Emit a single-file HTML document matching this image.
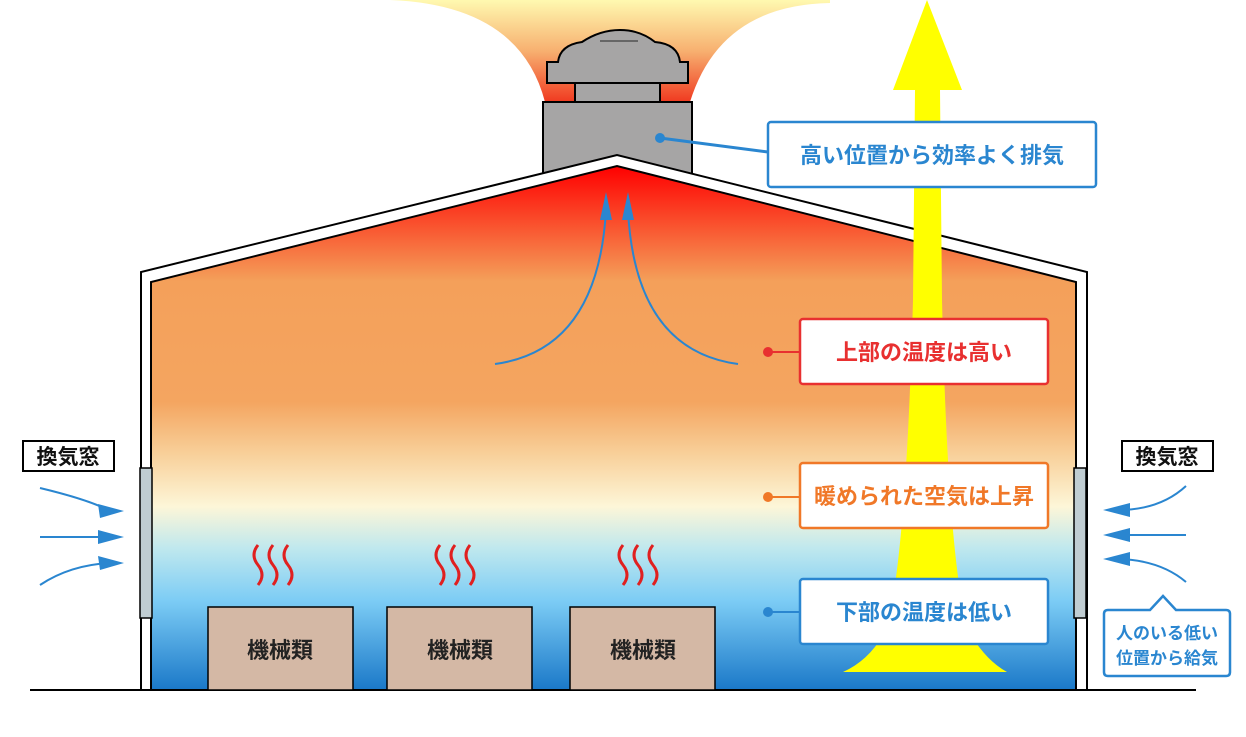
<!DOCTYPE html>
<html><head><meta charset="utf-8"><style>
body{margin:0;background:#fff}
svg{display:block}
text{font-family:"Liberation Sans","Noto Sans CJK JP",sans-serif;font-weight:bold}
</style></head><body>
<svg width="1246" height="737" viewBox="0 0 1246 737" xmlns="http://www.w3.org/2000/svg">
<defs>
<linearGradient id="room" gradientUnits="userSpaceOnUse" x1="0" y1="166" x2="0" y2="690">
<stop offset="0" stop-color="#ff0000"/>
<stop offset="0.22" stop-color="#f4a05a"/>
<stop offset="0.45" stop-color="#f4a560"/>
<stop offset="0.55" stop-color="#f8d09a"/>
<stop offset="0.65" stop-color="#fdf6d8"/>
<stop offset="0.73" stop-color="#bfe8ee"/>
<stop offset="0.83" stop-color="#7cccf5"/>
<stop offset="1" stop-color="#1a78c8"/>
</linearGradient>
<linearGradient id="plume" x1="0" y1="0" x2="0" y2="1">
<stop offset="0" stop-color="#fff9b0"/>
<stop offset="0.5" stop-color="#f7b070"/>
<stop offset="1" stop-color="#f03a20"/>
</linearGradient>
</defs>
<path d="M390,0 Q520,5 545,102 L690,102 Q720,5 830,3 L830,0 Z" fill="url(#plume)"/>
<rect x="543" y="102" width="149" height="72" fill="#a6a5a5" stroke="#000" stroke-width="2"/>
<rect x="575" y="83" width="85" height="19" fill="#a6a5a5" stroke="#000" stroke-width="2"/>
<path d="M547,83 L547,62 L558,62 Q560,45 582,42 Q600,30 620,30 Q640,30 655,42 Q678,44 680,62 L688,62 L688,83 Z" fill="#a6a5a5" stroke="#000" stroke-width="2"/>
<line x1="600" y1="41" x2="638" y2="41" stroke="#666" stroke-width="2"/>
<path d="M141,690 L141,272 L617,155 L1087,272 L1087,690" fill="#fff" stroke="#000" stroke-width="2"/>
<path d="M151,690 L151,282 L617,166 L1076,282 L1076,690 Z" fill="url(#room)" stroke="#000" stroke-width="2"/>
<line x1="30" y1="690" x2="1196" y2="690" stroke="#000" stroke-width="2"/>
<path d="M927,0 L962,90 L940,90 L942,300 Q948,560 968,630 Q985,660 1007,672 L843,672 Q870,660 886,630 Q906,560 913,300 L915,90 L893,90 Z" fill="#ffff00"/>
<rect x="140" y="468" width="12" height="150" fill="#c0cdd2" stroke="#000" stroke-width="1.5"/>
<rect x="1074" y="468" width="12" height="150" fill="#c0cdd2" stroke="#000" stroke-width="1.5"/>
<g fill="none" stroke="#2a86d0" stroke-width="2">
<path d="M495,364 Q598,350 606,210"/>
<path d="M738,364 Q635,350 628,210"/>
<path d="M40,488 Q90,500 110,511"/>
<path d="M40,537 L110,537"/>
<path d="M40,585 Q70,565 110,563"/>
<path d="M1186,486 Q1160,510 1118,510"/>
<path d="M1186,535 L1118,535"/>
<path d="M1186,582 Q1160,560 1118,559"/>
</g>
<g fill="#2a86d0">
<path d="M606,192 L600,220 L612,220 Z"/><path d="M628,192 L622,220 L634,220 Z"/>
<path d="M124,511 L98,504 L100,518 Z"/><path d="M124,537 L98,530 L98,544 Z"/><path d="M124,563 L98,556 L100,570 Z"/>
<path d="M1103,510 L1130,503 L1130,517 Z"/><path d="M1103,535 L1130,528 L1130,542 Z"/><path d="M1103,559 L1130,552 L1130,566 Z"/>
</g>
<g fill="none" stroke="#e02020" stroke-width="3">
<path d="M258,545 q-8,10 0,20 q8,10 0,20"/><path d="M273,545 q-8,10 0,20 q8,10 0,20"/><path d="M288,545 q-8,10 0,20 q8,10 0,20"/>
<path d="M440,545 q-8,10 0,20 q8,10 0,20"/><path d="M455,545 q-8,10 0,20 q8,10 0,20"/><path d="M470,545 q-8,10 0,20 q8,10 0,20"/>
<path d="M623,545 q-8,10 0,20 q8,10 0,20"/><path d="M638,545 q-8,10 0,20 q8,10 0,20"/><path d="M653,545 q-8,10 0,20 q8,10 0,20"/>
</g>
<g fill="#d4b8a5" stroke="#000" stroke-width="1.5">
<rect x="208" y="607" width="145" height="83"/><rect x="387" y="607" width="145" height="83"/><rect x="570" y="607" width="145" height="83"/>
</g>
<g font-size="22" fill="#222" text-anchor="middle">
<text x="280" y="658">機械類</text><text x="460" y="658">機械類</text><text x="643" y="658">機械類</text>
</g>
<line x1="660" y1="138" x2="768" y2="152" stroke="#2a86d0" stroke-width="3"/>
<circle cx="660" cy="138" r="5" fill="#2a86d0"/>
<rect x="768" y="122" width="328" height="65" rx="3" fill="#fff" stroke="#2a86d0" stroke-width="2.5"/>
<text x="932" y="163" font-size="22" fill="#2a86d0" text-anchor="middle">高い位置から効率よく排気</text>
<line x1="768" y1="352" x2="800" y2="352" stroke="#e83030" stroke-width="2"/>
<circle cx="768" cy="352" r="5" fill="#e83030"/>
<rect x="800" y="319" width="248" height="65" rx="3" fill="#fff" stroke="#e83030" stroke-width="2.5"/>
<text x="924" y="360" font-size="22" fill="#e83030" text-anchor="middle">上部の温度は高い</text>
<line x1="768" y1="497" x2="800" y2="497" stroke="#f07828" stroke-width="2"/>
<circle cx="768" cy="497" r="5" fill="#f07828"/>
<rect x="800" y="463" width="248" height="65" rx="3" fill="#fff" stroke="#f07828" stroke-width="2.5"/>
<text x="924" y="504" font-size="22" fill="#f07828" text-anchor="middle">暖められた空気は上昇</text>
<line x1="768" y1="612" x2="800" y2="612" stroke="#2a86d0" stroke-width="2"/>
<circle cx="768" cy="612" r="5" fill="#2a86d0"/>
<rect x="800" y="579" width="248" height="65" rx="3" fill="#fff" stroke="#2a86d0" stroke-width="2.5"/>
<text x="924" y="620" font-size="22" fill="#2a86d0" text-anchor="middle">下部の温度は低い</text>
<rect x="23" y="441" width="91" height="30" fill="#fff" stroke="#000" stroke-width="2"/>
<text x="68" y="464" font-size="21" fill="#111" text-anchor="middle">換気窓</text>
<rect x="1122" y="441" width="91" height="30" fill="#fff" stroke="#000" stroke-width="2"/>
<text x="1167" y="464" font-size="21" fill="#111" text-anchor="middle">換気窓</text>
<path d="M1108,610 L1150,610 L1163,596 L1176,610 L1226,610 Q1230,610 1230,614 L1230,672 Q1230,676 1226,676 L1108,676 Q1104,676 1104,672 L1104,614 Q1104,610 1108,610 Z" fill="#fff" stroke="#2a86d0" stroke-width="2.5"/>
<text x="1167" y="639" font-size="17" fill="#2a86d0" text-anchor="middle">人のいる低い</text>
<text x="1167" y="664" font-size="17" fill="#2a86d0" text-anchor="middle">位置から給気</text>
</svg>
</body></html>
